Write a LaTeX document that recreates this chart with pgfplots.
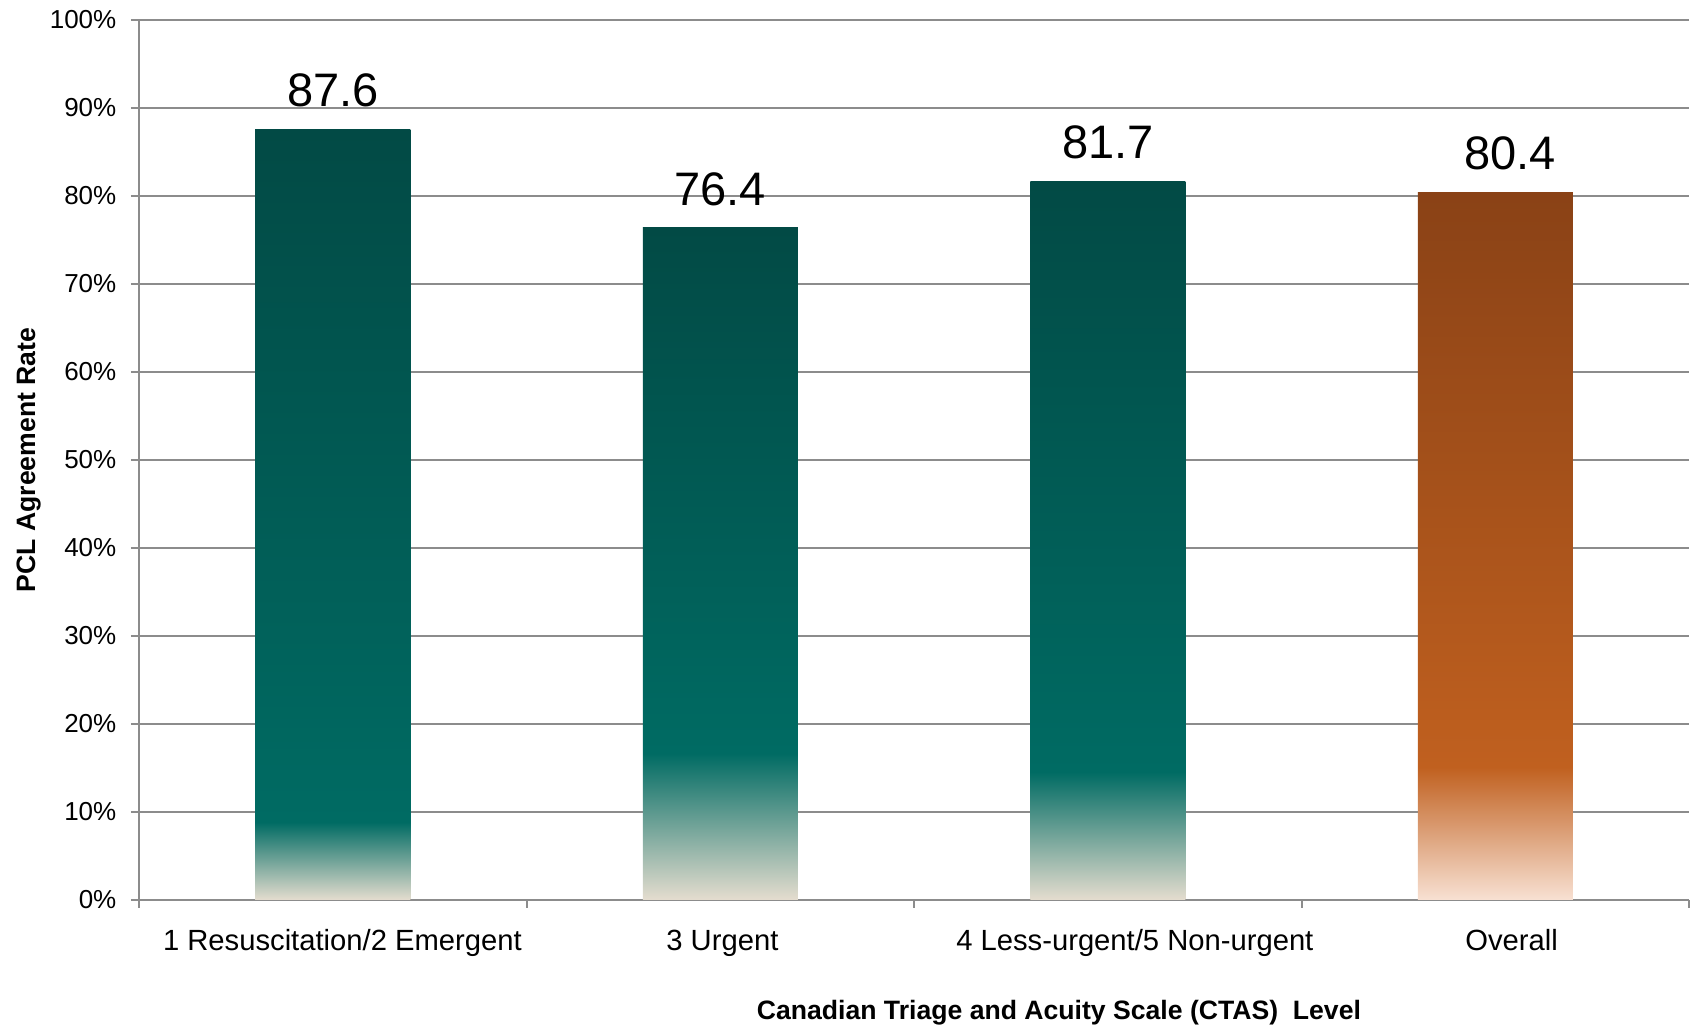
\documentclass[border=0pt]{standalone}
\usepackage{fontspec}
\setmainfont{Liberation Sans}
\usepackage{pgfplots}
\pgfplotsset{compat=1.18}
\definecolor{tealD}{RGB}{2,74,69}
\definecolor{tealM}{RGB}{0,107,99}
\definecolor{beigeT}{RGB}{229,221,207}
\definecolor{orD}{RGB}{138,66,22}
\definecolor{orM}{RGB}{192,96,31}
\definecolor{orL}{RGB}{248,225,211}
\definecolor{gridgray}{RGB}{140,140,140}
\pgfdeclareverticalshading{barA}{100bp}{color(0bp)=(beigeT); color(25bp)=(beigeT); color(30.05bp)=(tealM); color(75bp)=(tealD); color(100bp)=(tealD)}
\pgfdeclareverticalshading{barB}{100bp}{color(0bp)=(beigeT); color(25bp)=(beigeT); color(35.9bp)=(tealM); color(75bp)=(tealD); color(100bp)=(tealD)}
\pgfdeclareverticalshading{barC}{100bp}{color(0bp)=(beigeT); color(25bp)=(beigeT); color(33.9bp)=(tealM); color(75bp)=(tealD); color(100bp)=(tealD)}
\pgfdeclareverticalshading{barD}{100bp}{color(0bp)=(orL); color(25bp)=(orL); color(34.4bp)=(orM); color(75bp)=(orD); color(100bp)=(orD)}
\begin{document}
\begin{tikzpicture}
\begin{axis}[
  scale only axis, width=775pt, height=440pt,
  xmin=-0.5, xmax=3.5, ymin=0, ymax=100,
  axis lines*=left,
  ybar, bar width=0.4,
  ytick={0,10,...,100},
  yticklabel={\pgfmathprintnumber{\tick}\%},
  /pgf/number format/assume math mode=true,
  xtick={0.025,1.0056,2.07,3.042},
  xticklabels={1 Resuscitation/2 Emergent, 3 Urgent, 4 Less-urgent/5 Non-urgent, Overall},
  major x tick style={draw=none},
  minor xtick={-0.5,0.5,1.5,2.5,3.5},
  tick align=outside, major tick length=4pt, minor tick length=4pt,
  ymajorgrids, grid style={gridgray, line width=1pt},
  axis line style={gridgray, line width=1pt},
  tick style={gridgray, line width=1pt},
  yticklabel style={font=\fontsize{13}{15}\selectfont, xshift=-3.8pt},
  xticklabel style={font=\fontsize{14.6}{16}\selectfont, anchor=base, yshift=-21.2pt},
  ylabel={PCL Agreement Rate},
  ylabel style={font=\fontsize{13.3}{15}\selectfont\bfseries, at={(rel axis cs:-0.0712,0.5)}, anchor=center, inner sep=0pt},
  xlabel={Canadian Triage and Acuity Scale (CTAS)\ \ Level},
  xlabel style={font=\fontsize{13.3}{15}\selectfont\bfseries, at={(rel axis cs:0.5935,-0.128)}, anchor=center, inner sep=0pt},
  nodes near coords={\pgfmathprintnumber[fixed,precision=1,fixed zerofill]{\pgfplotspointmeta}},
  nodes near coords style={font=\fontsize{23.5}{28}\selectfont, anchor=south, yshift=7.5pt, text=black},
  point meta=y,
]
\addplot[draw=none, shading=barA, bar shift=0pt] coordinates {(0,87.6)};
\addplot[draw=none, shading=barB, bar shift=0pt] coordinates {(1,76.4)};
\addplot[draw=none, shading=barC, bar shift=0pt] coordinates {(2,81.7)};
\addplot[draw=none, shading=barD, bar shift=0pt, nodes near coords style={xshift=7.5pt}] coordinates {(3,80.4)};
\end{axis}
\path ([xshift=-69.5pt,yshift=-63pt]current axis.south west) rectangle ++(846pt,513pt);
\end{tikzpicture}
\end{document}
